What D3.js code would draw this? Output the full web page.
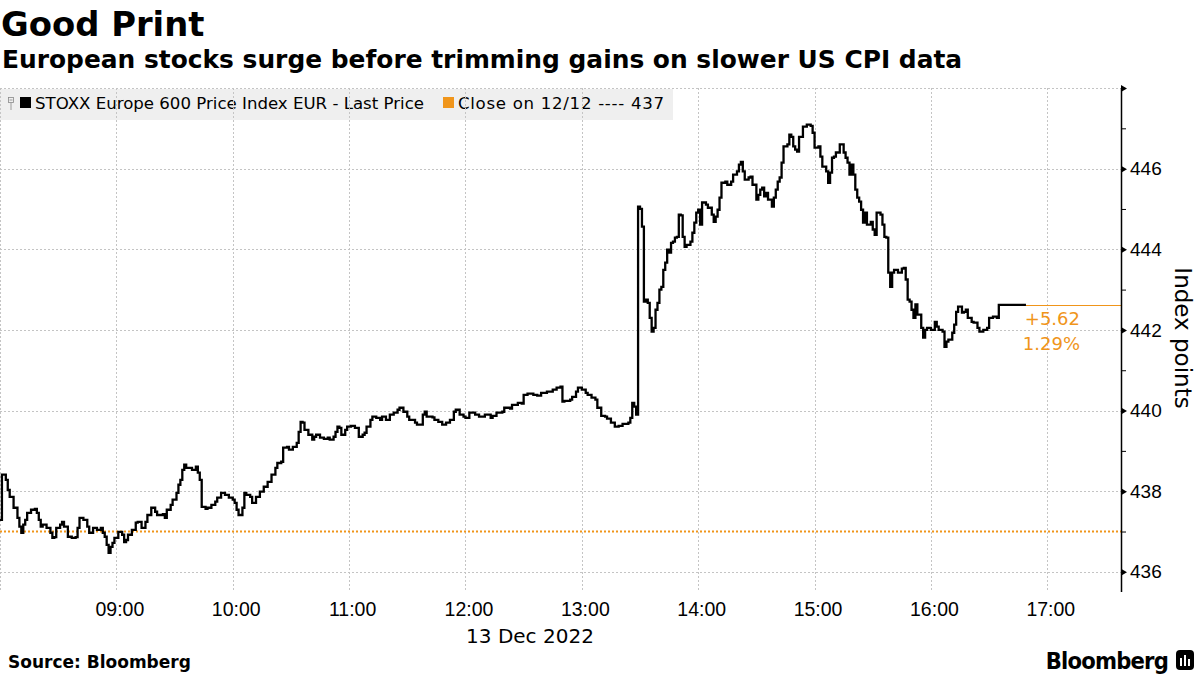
<!DOCTYPE html>
<html><head><meta charset="utf-8">
<script src="https://cdn.jsdelivr.net/npm/d3@7"></script>
<style>
body{margin:0;background:#fff;}
svg{display:block;font-family:"DejaVu Sans",sans-serif;}
</style></head>
<body><svg id="c" width="1200" height="675"></svg>
<script>
const title = "Good Print";
const subtitle = "European stocks surge before trimming gains on slower US CPI data";
const seriesName = "STOXX Europe 600 Price Index EUR - Last Price";
const closeLabel = "Close on 12/12 ---- 437";
const prevClose = 437.0;
const changeLabels = ["+5.62", "1.29%"];
const dateLabel = "13 Dec 2022";
const source = "Source: Bloomberg";
const yTicks = [436, 438, 440, 442, 444, 446, 448];
const yMinorTicks = [437, 439, 441, 443, 445, 447];
const xTickLabels = ["08:00","09:00","10:00","11:00","12:00","13:00","14:00","15:00","16:00","17:00"];
const times = ["08:00","08:01","08:03","08:04","08:05","08:07","08:09","08:10","08:11","08:12","08:13","08:14","08:16","08:18","08:19","08:20","08:21","08:22","08:24","08:26","08:27","08:28","08:29","08:31","08:32","08:33","08:35","08:37","08:39","08:40","08:41","08:43","08:45","08:46","08:48","08:50","08:52","08:53","08:54","08:55","08:56","08:57","08:58","08:59","09:01","09:03","09:04","09:05","09:06","09:08","09:10","09:11","09:13","09:15","09:16","09:18","09:20","09:21","09:24","09:25","09:26","09:28","09:29","09:31","09:32","09:33","09:34","09:35","09:36","09:39","09:41","09:42","09:43","09:44","09:46","09:47","09:49","09:51","09:52","09:54","09:56","09:58","10:00","10:01","10:02","10:03","10:05","10:06","10:07","10:09","10:10","10:12","10:14","10:16","10:18","10:20","10:22","10:23","10:25","10:26","10:28","10:29","10:31","10:33","10:34","10:35","10:36","10:37","10:39","10:41","10:42","10:43","10:45","10:47","10:49","10:50","10:52","10:53","10:54","10:55","10:56","10:58","10:59","11:01","11:03","11:05","11:07","11:08","11:09","11:11","11:12","11:14","11:16","11:17","11:19","11:21","11:23","11:25","11:26","11:28","11:30","11:31","11:34","11:35","11:38","11:39","11:40","11:43","11:44","11:46","11:48","11:50","11:52","11:54","11:55","11:57","11:59","12:00","12:02","12:05","12:07","12:10","12:13","12:14","12:16","12:19","12:20","12:23","12:24","12:27","12:29","12:30","12:32","12:35","12:37","12:39","12:42","12:45","12:47","12:49","12:50","12:51","12:54","12:55","12:57","12:58","13:00","13:02","13:03","13:05","13:07","13:08","13:10","13:12","13:13","13:15","13:17","13:19","13:21","13:24","13:25","13:26","13:27","13:28","13:29","13:30","13:31","13:32","13:33","13:34","13:35","13:36","13:37","13:38","13:39","13:40","13:41","13:42","13:43","13:44","13:45","13:46","13:47","13:48","13:49","13:50","13:51","13:52","13:53","13:54","13:56","13:57","13:58","13:59","14:00","14:01","14:02","14:04","14:05","14:07","14:08","14:09","14:10","14:11","14:12","14:14","14:15","14:17","14:18","14:20","14:21","14:22","14:23","14:24","14:26","14:27","14:28","14:30","14:31","14:32","14:33","14:34","14:35","14:36","14:38","14:39","14:40","14:41","14:42","14:43","14:44","14:46","14:47","14:48","14:49","14:50","14:51","14:52","14:54","14:56","14:58","14:59","15:00","15:02","15:03","15:04","15:06","15:07","15:08","15:09","15:10","15:11","15:13","15:15","15:16","15:17","15:18","15:19","15:20","15:21","15:22","15:23","15:24","15:25","15:26","15:27","15:29","15:30","15:31","15:32","15:34","15:35","15:36","15:37","15:38","15:39","15:40","15:41","15:43","15:45","15:46","15:47","15:48","15:49","15:50","15:51","15:52","15:53","15:55","15:56","15:57","15:58","16:00","16:02","16:03","16:04","16:06","16:07","16:08","16:09","16:11","16:12","16:13","16:14","16:16","16:17","16:18","16:19","16:21","16:22","16:24","16:25","16:27","16:29","16:30","16:32","16:34","16:35","16:49"];
const prices = [437.29,438.41,438.28,438.03,437.86,437.59,437.34,437.12,436.97,437.17,437.29,437.46,437.54,437.56,437.46,437.29,437.12,437.17,437.09,436.97,436.84,436.86,437.09,437.17,437.24,437.12,436.87,436.84,436.86,437.09,437.34,437.29,437.12,436.97,437.09,437.04,437.09,436.97,436.87,436.67,436.47,436.62,436.72,436.84,436.99,436.92,436.74,436.79,436.92,437.04,437.22,437.24,437.09,437.24,437.41,437.59,437.49,437.41,437.43,437.34,437.54,437.66,437.79,437.96,438.16,438.28,438.53,438.66,438.58,438.53,438.61,438.46,438.28,437.61,437.56,437.59,437.66,437.74,437.84,437.96,437.91,437.84,437.79,437.71,437.54,437.41,437.59,437.96,437.91,437.86,437.71,437.86,437.99,438.11,438.23,438.41,438.58,438.70,438.73,439.08,439.10,439.03,439.10,439.20,439.47,439.72,439.70,439.52,439.40,439.28,439.35,439.40,439.33,439.30,439.33,439.28,439.35,439.47,439.60,439.57,439.40,439.52,439.60,439.62,439.57,439.35,439.40,439.45,439.60,439.77,439.85,439.82,439.77,439.85,439.77,439.90,439.95,440.02,440.07,439.97,439.85,439.77,439.70,439.65,439.90,439.97,439.85,439.83,439.77,439.72,439.65,439.70,439.77,439.97,440.02,439.90,439.85,439.82,439.95,439.90,439.85,439.90,439.82,439.87,439.95,439.97,440.07,440.05,440.14,440.19,440.17,440.39,440.42,440.39,440.37,440.44,440.47,440.52,440.57,440.59,440.22,440.24,440.27,440.34,440.47,440.57,440.52,440.44,440.39,440.32,440.27,440.07,439.87,439.85,439.80,439.70,439.60,439.62,439.67,439.70,439.82,440.19,440.10,439.90,445.06,445.00,444.56,442.70,442.75,442.67,442.30,441.96,442.05,442.50,442.67,443.00,443.07,443.49,443.67,443.99,443.92,444.16,444.19,444.29,444.31,444.86,444.84,444.31,444.06,444.11,444.19,444.41,444.66,444.91,444.98,444.61,445.16,445.11,445.03,444.86,444.68,444.81,444.98,445.28,445.65,445.68,445.60,445.68,445.85,445.93,446.10,446.17,445.93,445.73,445.78,445.80,445.60,445.23,445.35,445.48,445.53,445.31,445.40,445.23,445.06,445.28,445.48,445.68,445.78,446.15,446.55,446.60,446.84,446.79,446.55,446.47,446.42,446.79,447.04,447.09,447.06,446.89,446.52,446.55,446.30,446.05,445.93,445.65,445.90,446.27,446.30,446.40,446.60,446.40,446.27,446.15,445.85,446.10,445.85,445.48,445.28,445.18,444.98,444.66,444.91,444.61,444.68,444.49,444.36,444.91,444.86,444.61,444.31,444.29,443.42,443.07,443.42,443.49,443.42,443.52,443.54,443.25,442.75,442.70,442.50,442.30,442.63,442.38,442.05,441.81,442.00,442.05,442.00,442.20,442.08,442.00,441.96,441.58,441.71,441.76,441.93,442.13,442.45,442.58,442.43,442.45,442.50,442.30,442.20,442.18,442.05,441.96,442.00,442.05,442.30,442.33,442.30,442.62,442.62];

(function () {
const ORANGE = "#f0951a";
const parse = s => { const [h, m] = s.split(":").map(Number); return new Date(2022, 11, 13, h, m); };
const data = times.map((t, i) => ({ t: parse(t), v: prices[i] }));

const svg = d3.select("#c");
const pLeft = 0, pRight = 1121, pTop = 88, pBottom = 592;
const x = d3.scaleTime().domain([parse("08:00"), parse("17:38")]).range([pLeft, pRight]);
const y = d3.scaleLinear().domain([435.5, 448]).range([pBottom, pTop]);

// titles
svg.append("text").attr("x", 1).attr("y", 36).attr("font-size", 33.8).attr("font-weight", "bold").attr("fill", "#000").text(title);
svg.append("text").attr("x", 2).attr("y", 68).attr("font-size", 24.9).attr("font-weight", "bold").attr("fill", "#000").text(subtitle);

// legend background
const lg = svg.append("g");
lg.append("rect").attr("x", 0).attr("y", 89).attr("width", 673).attr("height", 31).attr("fill", "#efefef");

// gridlines
const grid = svg.append("g").attr("stroke", "#c4c4c4").attr("stroke-width", 1).attr("stroke-dasharray", "2,2");
grid.selectAll("line.h").data(yTicks).join("line")
  .attr("x1", pLeft).attr("x2", pRight).attr("y1", d => Math.round(y(d)) + 0.5).attr("y2", d => Math.round(y(d)) + 0.5);
grid.selectAll("line.v").data(xTickLabels).join("line")
  .attr("x1", d => Math.round(x(parse(d))) + 0.5).attr("x2", d => Math.round(x(parse(d))) + 0.5)
  .attr("y1", pTop).attr("y2", pBottom);

// legend contents
lg.append("rect").attr("x", 8.5).attr("y", 97.5).attr("width", 5).attr("height", 5).attr("fill", "none").attr("stroke", "#888").attr("stroke-width", 0.8);
lg.append("line").attr("x1", 11).attr("x2", 11).attr("y1", 103).attr("y2", 110).attr("stroke", "#888").attr("stroke-width", 0.8);
lg.append("line").attr("x1", 9.5).attr("x2", 12.5).attr("y1", 100).attr("y2", 100).attr("stroke", "#888").attr("stroke-width", 0.8);
lg.append("rect").attr("x", 20).attr("y", 97).attr("width", 11).attr("height", 11).attr("fill", "#000");
lg.append("text").attr("x", 35).attr("y", 109).attr("font-size", 16.6).attr("fill", "#000").text(seriesName);
lg.append("rect").attr("x", 443).attr("y", 97).attr("width", 11).attr("height", 11).attr("fill", ORANGE);
lg.append("text").attr("x", 458).attr("y", 109).attr("font-size", 16.6).attr("fill", "#000")
  .attr("textLength", 206).attr("lengthAdjust", "spacing").text(closeLabel);

// previous close dotted line
svg.append("line").attr("x1", pLeft).attr("x2", pRight).attr("y1", y(prevClose)).attr("y2", y(prevClose))
  .attr("stroke", ORANGE).attr("stroke-width", 2).attr("stroke-dasharray", "2,2");

// last price line
const last = data[data.length - 1];
svg.append("line").attr("x1", x(last.t)).attr("x2", pRight).attr("y1", Math.round(y(last.v)) + 0.5).attr("y2", Math.round(y(last.v)) + 0.5)
  .attr("stroke", ORANGE).attr("stroke-width", 1);

// series line
svg.append("path").datum(data)
  .attr("fill", "none").attr("stroke", "#000").attr("stroke-width", 2.3).attr("stroke-linejoin", "miter")
  .attr("d", d3.line().x(d => x(d.t)).y(d => y(d.v)).curve(d3.curveStepAfter));

// change labels
svg.append("text").attr("x", 1080).attr("y", y(last.v) + 20).attr("text-anchor", "end").attr("font-size", 18).attr("fill", ORANGE).text(changeLabels[0]);
svg.append("text").attr("x", 1080).attr("y", y(last.v) + 45).attr("text-anchor", "end").attr("font-size", 18).attr("fill", ORANGE).text(changeLabels[1]);

// right axis
const ax = svg.append("g").attr("transform", `translate(${pRight},0)`);
ax.call(d3.axisRight(y).tickValues(yTicks).tickSize(0).tickPadding(9).tickFormat(d => d === 448 ? "" : d3.format("d")(d)));
ax.select(".domain").attr("stroke", "#000").attr("stroke-width", 1.5).attr("d", `M0.5,${pTop}V${pBottom}`);
ax.selectAll(".tick text").attr("font-size", 19).attr("fill", "#000").attr("font-family", null);
ax.selectAll(".tick").append("path").attr("d", "M0,-3.5L6,0L0,3.5Z").attr("fill", "#000");
const axm = svg.append("g").attr("transform", `translate(${pRight},0)`);
axm.call(d3.axisRight(y).tickValues(yMinorTicks).tickSize(5).tickFormat(""));
axm.select(".domain").remove();
axm.selectAll(".tick line").attr("stroke", "#000").attr("stroke-width", 1);
svg.append("text").attr("transform", "translate(1175,338) rotate(90)").attr("text-anchor", "middle")
  .attr("font-size", 23).attr("fill", "#000").text("Index points");

// bottom axis labels
const bx = svg.append("g").attr("transform", `translate(3,${pBottom})`);
bx.call(d3.axisBottom(x).tickValues(xTickLabels.slice(1).map(parse)).tickSize(0).tickPadding(10).tickFormat(d3.timeFormat("%H:%M")));
bx.select(".domain").remove();
bx.selectAll(".tick text").attr("font-size", 19.5).attr("fill", "#000").attr("font-family", null);
svg.append("text").attr("x", 530).attr("y", 643).attr("text-anchor", "middle").attr("font-size", 20).attr("fill", "#000").text(dateLabel);

// footer
svg.append("text").attr("x", 8).attr("y", 668).attr("font-size", 17).attr("font-weight", "bold").attr("fill", "#000").text(source);
svg.append("text").attr("x", 1168).attr("y", 669).attr("text-anchor", "end").attr("font-size", 23.5).attr("font-weight", "bold").attr("fill", "#000").attr("letter-spacing", -0.8).attr("font-stretch", "condensed").style("font-family", "'DejaVu Sans Condensed','DejaVu Sans',sans-serif").text("Bloomberg");
const logo = svg.append("g").attr("transform", "translate(1176,650)");
logo.append("rect").attr("x", 0).attr("y", 0).attr("width", 18).attr("height", 20).attr("rx", 4).attr("fill", "#000");
logo.append("rect").attr("x", 4).attr("y", 8).attr("width", 2).attr("height", 8).attr("fill", "#fff");
logo.append("rect").attr("x", 8).attr("y", 5).attr("width", 2).attr("height", 11).attr("fill", "#fff");
logo.append("rect").attr("x", 12).attr("y", 9).attr("width", 2).attr("height", 7).attr("fill", "#fff");
})();
</script></body></html>
